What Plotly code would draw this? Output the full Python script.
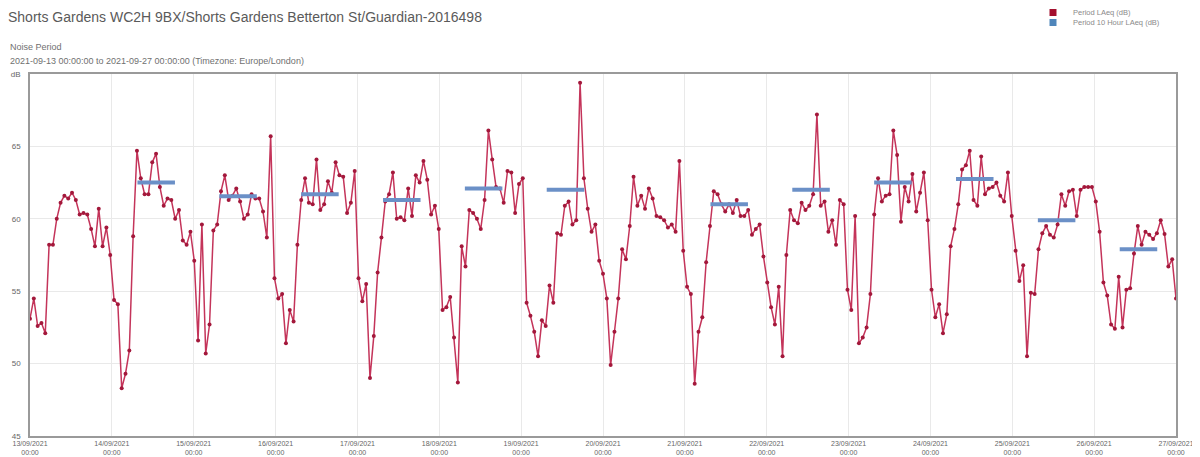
import pandas as pd
import plotly.graph_objects as go

title_text = "Shorts Gardens WC2H 9BX/Shorts Gardens Betterton St/Guardian-2016498"
subtitle_1 = "Noise Period"
subtitle_2 = "2021-09-13 00:00:00 to 2021-09-27 00:00:00 (Timezone: Europe/London)"
series_names = ["Period LAeq (dB)", "Period 10 Hour LAeq (dB)"]
period_start = "2021-09-13 00:00"
period_end = "2021-09-27 00:00"

# Period LAeq (dB), in time order
period_laeq = [
    53.1, 54.5, 52.6, 52.8, 52.1, 58.2, 58.2, 60.0, 61.1, 61.6,
    61.4, 61.8, 61.3, 60.3, 60.4, 60.3, 59.3, 58.1, 60.7, 58.1,
    59.4, 57.5, 54.4, 54.1, 48.3, 49.3, 50.9, 58.8, 64.7,
    62.8, 61.7, 61.7, 63.9, 64.5, 62.2, 60.9, 61.4, 61.3, 60.0,
    60.6, 58.5, 58.2, 59.1, 57.1, 51.6, 59.6, 50.7, 52.7, 59.2,
    59.6, 61.9, 63.0, 61.3, 61.6, 62.1, 61.2, 60.0, 60.3, 61.7,
    61.4, 61.4,
    60.5, 58.7, 65.7, 55.9, 54.5, 54.8, 51.4, 53.7, 52.9, 58.2,
    61.3, 62.8, 61.1, 61.0, 64.1, 60.6, 61.0, 62.6, 61.8, 63.9,
    63.0, 62.9, 60.4, 61.1, 63.3, 55.9, 54.3, 55.5, 49.0, 51.9,
    56.3, 58.7, 61.2, 61.7, 63.2, 60.0, 60.1, 59.9, 62.1, 60.2,
    63.0, 62.5, 64.0, 62.7, 60.3, 60.9, 59.3, 53.7, 53.9, 54.6,
    51.8, 48.7, 58.1, 56.7, 60.6, 60.4, 60.0, 59.3, 61.3, 66.1,
    64.1, 62.2, 62.1, 61.1, 63.3, 63.2, 60.4, 62.4, 62.8, 54.2,
    53.3, 52.2, 50.5, 53.0, 52.6, 55.4, 54.2, 59.0, 58.9, 60.9,
    61.2, 59.6, 59.9, 69.4, 62.8, 60.7, 59.1, 59.6, 57.1, 56.2,
    54.5, 49.9, 52.2, 54.5, 57.9, 57.2, 59.5, 62.9, 60.9, 61.6,
    60.7, 62.1, 61.4, 60.2, 60.1, 59.9, 59.4, 59.6, 59.1, 64.0,
    57.8, 55.3, 54.8, 48.6, 52.2, 53.2, 57.0, 59.5, 61.9, 61.7,
    61.0, 60.5, 61.0, 60.4, 61.3, 60.2, 60.2, 60.6, 58.9, 59.3,
    59.6, 57.4, 55.6, 53.9, 52.7, 55.3, 50.5, 57.5, 60.6, 59.9,
    59.7, 61.1, 60.6, 60.9, 61.7, 67.2, 60.9, 61.2, 59.1, 59.9,
    58.2, 61.3, 61.0, 55.1, 53.7, 60.2, 51.4, 51.8, 52.5, 54.8,
    60.3, 62.8, 61.2, 61.6, 61.7, 66.1, 64.4, 59.8, 62.2, 61.2,
    63.1, 60.5, 61.8, 63.2, 59.9, 55.1, 53.2, 54.1, 52.1, 53.4,
    58.1, 59.3, 61.0, 63.4, 63.7, 64.7, 61.3, 60.9, 64.3, 61.7,
    62.1, 62.2, 62.5, 61.6, 61.2, 63.2, 60.2, 57.8, 55.7, 56.8,
    50.5, 54.9, 54.8, 57.9, 59.0, 59.5, 58.9, 58.7, 59.6, 61.7,
    60.9,
    61.9, 62.0, 60.2, 62.0, 62.2, 62.2, 62.2, 61.2, 59.1, 55.6,
    54.7, 52.7, 52.4, 56.0, 52.5, 55.1, 55.2, 57.6, 59.5, 58.2,
    59.1, 58.9, 58.6, 59.0, 59.9, 58.95, 56.7, 57.2, 54.5,
]

# Period 10 Hour LAeq (dB), one value per day
day10_dates = ["2021-09-14", "2021-09-15", "2021-09-16", "2021-09-17",
               "2021-09-18", "2021-09-19", "2021-09-21", "2021-09-22",
               "2021-09-23", "2021-09-24", "2021-09-25", "2021-09-26"]
day10_values = [62.5, 61.55, 61.7, 61.3, 62.1, 62.0, 61.0, 62.0,
                62.5, 62.75, 59.9, 57.9]
day10_from = "07:30"
day10_to = "18:30"

y_tick_values = [45, 50, 55, 60, 65, 70]
y_tick_text = ["45", "50", "55", "60", "65", "dB"]

times = pd.date_range(period_start, period_end, periods=len(period_laeq))

bx, by = [], []
for d, v in zip(day10_dates, day10_values):
    bx += [pd.Timestamp(f"{d} {day10_from}"), pd.Timestamp(f"{d} {day10_to}"), None]
    by += [v, v, None]

RED_LINE = "#c4345a"
RED_MARK = "#a3183b"
BLUE = "#6b90c7"
TXT = "#666666"
FONT = "Liberation Sans, Arial, sans-serif"

# The page adds an 8px body margin; the figure is sized to fit inside the
# 1200x457 window with that offset. Plot area: 1146 x 362 px.
W, H = 1192, 449
ML, MT, MR, MB = 22, 66, 24, 21
PW, PH = W - ML - MR, H - MT - MB


def px_x(fig_x):
    return (fig_x - ML) / PW


def px_y(fig_y):
    return (H - MB - fig_y) / PH


fig = go.Figure()
fig.add_trace(go.Scatter(
    x=times, y=period_laeq, mode="lines+markers", name=series_names[0],
    line=dict(color=RED_LINE, width=1.5),
    marker=dict(color=RED_MARK, size=4),
    showlegend=False,
))
fig.add_trace(go.Scatter(
    x=bx, y=by, mode="lines", name=series_names[1],
    line=dict(color=BLUE, width=4), connectgaps=False,
    showlegend=False,
))
# legend entries (square swatches), one per legend box for tight spacing
fig.add_trace(go.Scatter(x=[None], y=[None], mode="markers", name=series_names[0],
                         marker=dict(symbol="square", size=7, color="#a3102e"),
                         legend="legend"))
fig.add_trace(go.Scatter(x=[None], y=[None], mode="markers", name=series_names[1],
                         marker=dict(symbol="square", size=7, color="#4f86bb"),
                         legend="legend2"))

tick_days = pd.date_range(period_start, period_end, freq="D")

legend_common = dict(xanchor="left", yanchor="top",
                     font=dict(size=7.5, color="#8a8a8a", family=FONT),
                     bgcolor="rgba(0,0,0,0)", itemwidth=30, tracegroupgap=0)

fig.update_layout(
    width=W, height=H,
    margin=dict(l=ML, r=MR, t=MT, b=MB, autoexpand=False),
    paper_bgcolor="white", plot_bgcolor="white",
    font=dict(family=FONT, color=TXT, size=8),
    title=dict(text=title_text, x=0, xanchor="left", xref="container",
               y=1 - 9 / H, yanchor="middle", yref="container",
               font=dict(size=14, color="#5a5a5a", family=FONT)),
    legend=dict(x=px_x(1025), y=px_y(-10), **legend_common),
    legend2=dict(x=px_x(1025), y=px_y(0), **legend_common),
    xaxis=dict(
        type="date", range=[period_start, period_end],
        tickvals=tick_days, tickformat="%d/%m/%Y<br>%H:%M",
        showgrid=True, gridcolor="#e9e9e9", gridwidth=1,
        showline=True, mirror=True, linecolor="#9a9a9a", linewidth=1.5,
        ticks="", tickfont=dict(size=7, color=TXT), zeroline=False,
    ),
    yaxis=dict(
        range=[45, 70], tickvals=y_tick_values, ticktext=y_tick_text,
        showgrid=True, gridcolor="#e9e9e9", gridwidth=1,
        showline=True, mirror=True, linecolor="#9a9a9a", linewidth=1.5,
        ticks="", ticklabelstandoff=6, tickfont=dict(size=8, color=TXT),
        zeroline=False,
    ),
    annotations=[
        dict(text=subtitle_1, xref="paper", yref="paper", x=px_x(0),
             y=px_y(39), xanchor="left", yanchor="middle", showarrow=False,
             font=dict(size=9, color="#707070", family=FONT)),
        dict(text=subtitle_2, xref="paper", yref="paper", x=px_x(0),
             y=px_y(53), xanchor="left", yanchor="middle", showarrow=False,
             font=dict(size=9, color="#707070", family=FONT)),
    ],
)

fig.write_html("out.html")
